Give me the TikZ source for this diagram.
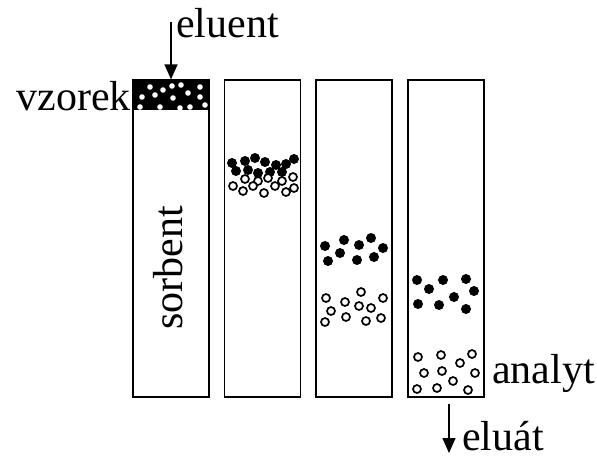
\documentclass[tikz,border=0pt]{standalone}
\usepackage{fontspec}
\setmainfont{Liberation Serif}
\usetikzlibrary{arrows.meta}

\begin{document}
\begin{tikzpicture}[x=1pt,y=-1pt,
    tube/.style={draw,line width=1.3pt,minimum width=76pt,minimum height=317pt,inner sep=0pt},
    lbl/.style={font=\fontsize{42}{42}\selectfont,inner sep=0pt},
    hollow/.style={draw,fill=white,line width=1.7pt},
    arr/.style={line width=1.4pt,-{Triangle[length=15pt,width=13pt]}}]
    \useasboundingbox (0,0) rectangle (597,459);

    % sample zone at the top of the first tube
    \fill (133,80) rectangle (209,110);
    \foreach \p in {(150,87),(163,90),(172,86),(181,85),(200,87),(142,97),(155,95),
                    (173,98),(188,93),(200,97),(140,107),(160,107),(180,108),(190,107),(205,105)}
        \fill[white] \p circle (2.8);

    % second tube
    \foreach \p in {(232,163),(245,161),(255,158),(265,162),(276,165),(286,164),(294,159),
                    (236,171),(248,170),(258,173),(270,172),(282,172)}
        \fill \p circle (5);
    \foreach \p in {(245,179),(258,181),(268,178),(282,181),(293,177),(233,186),(243,191),
                    (253,186),(264,193),(275,186),(286,192),(294,188)}
        \draw[hollow] \p circle (4);

    % third tube
    \foreach \p in {(325,246),(344,240),(359,245),(371,238),(383,248),(340,253),(328,261),
                    (357,260),(374,257)}
        \fill \p circle (5);
    \foreach \p in {(326,298),(361,292),(383,298),(345,302),(359,306),(371,308),(331,311),
                    (346,317),(381,318),(325,322),(366,321)}
        \draw[hollow] \p circle (4);

    % fourth tube
    \foreach \p in {(417,280),(443,280),(466,279),(429,289),(474,291),(454,297),(418,304),
                    (439,305),(466,309)}
        \fill \p circle (5);
    \foreach \p in {(418,357),(441,355),(472,354),(460,363),(424,373),(442,371),(475,373),
                    (453,381),(417,389),(437,388),(468,390)}
        \draw[hollow] \p circle (4);

    \node at (171,238.5) [tube] (c1) {};
    \node at (262.5,238.5) [tube] (c2) {};
    \node at (354,238.5) [tube] (c3) {};
    \node at (446,238.5) [tube] (c4) {};

    \node at (168,268) [lbl,rotate=90] (sorb) {sorbent};
    \node at (131,110) [lbl,anchor=base east] (vz) {vzorek};
    \node at (176,37) [lbl,anchor=base west] (el) {eluent};
    \node at (492,383) [lbl,anchor=base west] (an) {analyt};
    \node at (462,450) [lbl,anchor=base west] (elt) {eluát};

    \coordinate (in) at (171,22);
    \coordinate (out) at (449,453);
    \draw[arr] (in) -- (c1.north);
    \draw[arr] ([yshift=-6pt]c4.south -| out) -- (out);
\end{tikzpicture}
\end{document}
